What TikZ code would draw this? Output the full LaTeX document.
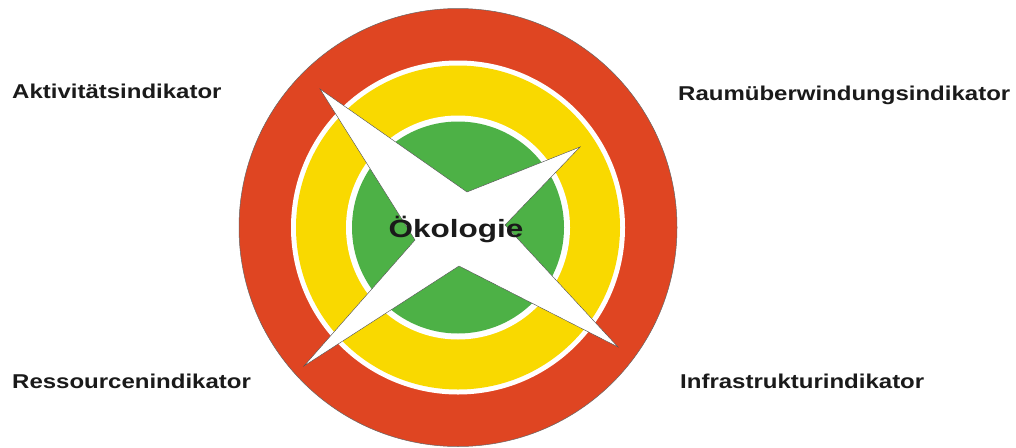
\documentclass[tikz,border=0pt]{standalone}
\usepackage{fontspec}
\setmainfont{Liberation Sans}
\definecolor{ringred}{HTML}{DF4522}
\definecolor{ringyellow}{HTML}{F9D900}
\definecolor{ringgreen}{HTML}{4DB146}
\definecolor{txt}{HTML}{1A1A1A}
\begin{document}
\begin{tikzpicture}[x=1pt,y=-1pt,
  label/.style={inner sep=0pt, anchor=base west, text=txt, font=\bfseries\fontsize{20}{24}\selectfont},
  center/.style={inner sep=0pt, anchor=base, text=txt, font=\bfseries\fontsize{25}{30}\selectfont}]
\useasboundingbox (0,0) rectangle (1016,447);
\fill[white] (0,0) rectangle (1016,447);
\coordinate (c) at (458,227.5);
\fill[ringred, draw=black!60, line width=0.5pt] (c) circle (219pt);
\fill[white] (c) circle (167pt);
\fill[ringyellow] (c) circle (162pt);
\fill[white] (c) circle (112pt);
\fill[ringgreen] (c) circle (106pt);
\coordinate (tl) at (320,89);
\coordinate (ti) at (467,192);
\coordinate (tr) at (580,147);
\coordinate (ri) at (505,225);
\coordinate (br) at (618,347);
\coordinate (bi) at (459,266);
\coordinate (bl) at (304,366);
\coordinate (li) at (415,240);
\draw[fill=white, draw=black!70, line width=0.4pt, line join=miter]
  (tl) -- (ti) -- (tr) -- (ri) -- (br) -- (bi) -- (bl) -- (li) -- cycle;
\node[center] (oek) at (456,237) {\scalebox{1.26}[1]{Ökologie}};
\node[label] (akt) at (12,98) {\scalebox{1.2}[1]{Aktivitätsindikator}};
\node[label] (raum) at (678,100) {\scalebox{1.2}[1]{Raumüberwindungsindikator}};
\node[label] (res) at (12,388) {\scalebox{1.2}[1]{Ressourcenindikator}};
\node[label] (inf) at (680,388) {\scalebox{1.2}[1]{Infrastrukturindikator}};
\end{tikzpicture}
\end{document}
